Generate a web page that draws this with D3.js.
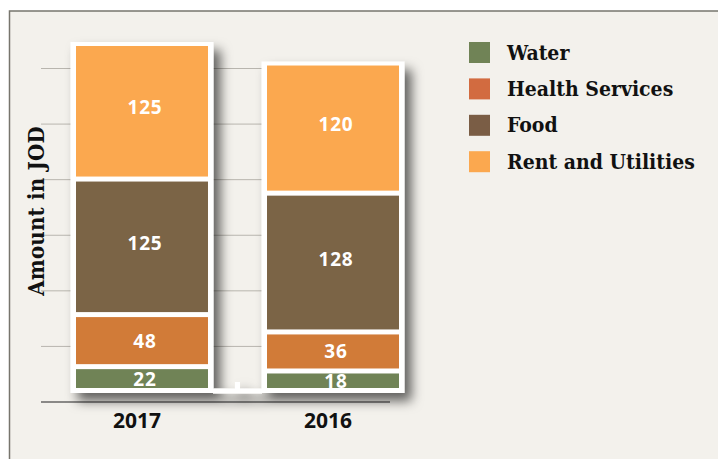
<!DOCTYPE html>
<html>
<head>
<meta charset="utf-8">
<script src="https://cdn.jsdelivr.net/npm/d3@7"></script>
<style>
  body { margin: 0; background: #fff; }
  svg { display: block; }
</style>
</head>
<body>
<svg width="718" height="459"></svg>
<script>
var svg = d3.select("svg");

// data
var years = ["2017", "2016"];
var series = ["Water", "Health Services", "Food", "Rent and Utilities"];
var water = [22, 18];
var health = [48, 36];
var food = [125, 128];
var rent = [125, 120];
var gridTicks = [50, 100, 150, 200, 250, 300];

var barColors = ["#708356", "#d17b38", "#7b6446", "#fba84f"];
var legendColors = ["#708356", "#d26b40", "#7a5d45", "#fba84f"];

var rows = years.map(function(y, i) {
    return { year: y, "Water": water[i], "Health Services": health[i],
             "Food": food[i], "Rent and Utilities": rent[i] };
});
var stacked = d3.stack().keys(series)(rows);

// scales
var x = d3.scaleBand().domain(years).range([76, 399]).paddingInner(0.309);
var y = d3.scaleLinear().domain([0, 320]).range([390.5, 43.5]);
// the grid does not follow the bars exactly in the original
var yGrid = d3.scaleLinear().domain([0, 300]).range([402, 68.5]);

var defs = svg.append("defs");
var f = defs.append("filter").attr("id", "shadow")
    .attr("x", "-20%").attr("y", "-20%").attr("width", "150%").attr("height", "150%");
f.append("feDropShadow")
    .attr("dx", 7).attr("dy", 8).attr("stdDeviation", 6)
    .attr("flood-color", "#000").attr("flood-opacity", 0.6);

// paper background
svg.append("rect").attr("width", 718).attr("height", 459).attr("fill", "#fff");
svg.append("rect").attr("x", 9.5).attr("y", 11).attr("width", 710).attr("height", 450)
    .attr("fill", "#f3f1ec");
svg.append("path").attr("d", "M9.5,460V11H718")
    .attr("fill", "none").attr("stroke", "#77756d").attr("stroke-width", 1.5);

// grid lines
svg.append("g").selectAll("line").data(gridTicks).join("line")
    .attr("x1", 41).attr("x2", 262)
    .attr("y1", function(d) { return yGrid(d); })
    .attr("y2", function(d) { return yGrid(d); })
    .attr("stroke", "#b8b5ae").attr("stroke-width", 1);

// base line
svg.append("line").attr("x1", 41).attr("x2", 390)
    .attr("y1", yGrid(0)).attr("y2", yGrid(0))
    .attr("stroke", "#222").attr("stroke-width", 1.2);

// white frames behind the bars, with a shadow
var frames = svg.append("g").attr("filter", "url(#shadow)");
var bw = x.bandwidth();
frames.selectAll("rect.frame").data(rows).join("rect")
    .attr("class", "frame")
    .attr("x", function(d) { return x(d.year) - 5.5; })
    .attr("y", function(d, i) { return y(stacked[series.length - 1][i][1]) - 1.5; })
    .attr("width", bw + 11)
    .attr("height", function(d, i) { return 393 - (y(stacked[series.length - 1][i][1]) - 1.5); })
    .attr("fill", "#fff");
// strip joining the two frames at the bottom
var x0 = x(years[0]) + bw + 5, x1 = x(years[1]) - 5;
frames.append("path")
    .attr("d", "M" + x0 + ",388.5H" + (x0 + 22) + "V382H" + (x0 + 27) + "V388.5H" + x1 + "V393.5H" + x0 + "Z")
    .attr("fill", "#fff");

// stacked segments
var layer = svg.append("g").selectAll("g").data(stacked).join("g")
    .attr("fill", function(d, i) { return barColors[i]; });
layer.selectAll("rect").data(function(d) { return d; }).join("rect")
    .attr("x", function(d) { return x(d.data.year); })
    .attr("y", function(d) { return y(d[1]) + 2.5; })
    .attr("width", bw)
    .attr("height", function(d) { return y(d[0]) - y(d[1]) - 5; });

// value labels
layer.selectAll("text").data(function(d) { return d; }).join("text")
    .attr("x", function(d) { return x(d.data.year) + bw / 2 + 3; })
    .attr("y", function(d) {
        var h = y(d[0]) - y(d[1]);
        var c = (y(d[0]) + y(d[1])) / 2;
        return (h > 80 ? c - 4 : c) + 7;
    })
    .attr("text-anchor", "middle")
    .attr("fill", "#fff")
    .style("font-family", "'Open Sans', sans-serif")
    .style("font-weight", "bold")
    .style("font-size", "19px")
    .style("letter-spacing", "0.8px")
    .text(function(d) { return d[1] - d[0]; });

// year labels
svg.append("g").selectAll("text").data(years).join("text")
    .attr("x", function(d) { return x(d) + bw / 2 - 5; })
    .attr("y", 428)
    .attr("text-anchor", "middle")
    .attr("fill", "#111")
    .style("font-family", "'Open Sans', sans-serif")
    .style("font-weight", "bold")
    .style("font-size", "21px")
    .text(function(d) { return d; });

// y axis title
svg.append("text")
    .attr("transform", "translate(44,211) rotate(-90)")
    .attr("text-anchor", "middle")
    .attr("fill", "#111")
    .style("font-family", "'DejaVu Serif', serif")
    .style("font-weight", "bold")
    .style("font-size", "22px")
    .style("font-stretch", "condensed")
    .style("letter-spacing", "0.2px")
    .text("Amount in JOD");

// legend
var legend = svg.append("g").selectAll("g").data(series).join("g")
    .attr("transform", function(d, i) { return "translate(469," + (42 + i * 36.4) + ")"; });
legend.append("rect").attr("width", 21).attr("height", 21)
    .attr("fill", function(d, i) { return legendColors[i]; });
legend.append("text")
    .attr("x", 38).attr("y", 17.5)
    .attr("fill", "#111")
    .style("font-family", "'DejaVu Serif', serif")
    .style("font-weight", "bold")
    .style("font-size", "21px")
    .style("font-stretch", "condensed")
    .text(function(d) { return d; });
</script>
</body>
</html>
